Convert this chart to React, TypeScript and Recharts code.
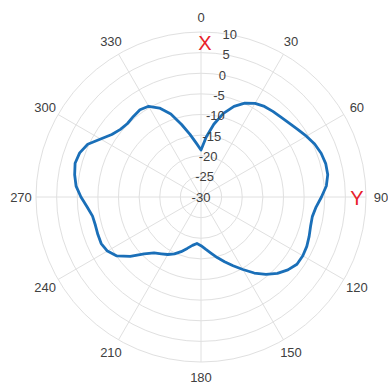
import React from "react";
import {
  RadarChart,
  Radar,
  PolarGrid,
  PolarAngleAxis,
  PolarRadiusAxis,
} from "recharts";

// angle in degrees, clockwise from top
const angles = [
  0, 5, 10, 15, 20, 25, 30, 35, 40, 45, 50, 55, 60, 65, 70, 75, 80, 85, 90, 95,
  100, 105, 110, 115, 120, 125, 130, 135, 140, 145, 150, 155, 160, 165, 170, 175,
  180, 185, 190, 195, 200, 205, 210, 215, 220, 225, 230, 235, 240, 245, 250, 255,
  260, 265, 270, 275, 280, 285, 290, 295, 300, 305, 310, 315, 320, 325, 330, 335,
  340, 345, 350, 355,
];

// gain in dB
const gain = [
  -18.6, -15.4, -12.1, -9.0, -6.6, -4.9, -3.8, -3.2, -2.9, -2.6, -2.1, -1.4,
  -0.5, 0.4, 1.0, 1.3, 1.2, 0.5, -0.8, -2.0, -2.6, -2.5, -2.1, -1.7, -1.5, -1.6,
  -2.5, -3.8, -5.5, -7.5, -9.7, -11.6, -13.3, -14.8, -16.2, -17.3, -18.2, -18.7,
  -18.1, -17.1, -15.9, -14.8, -13.9, -13.2, -12.3, -10.5, -7.6, -5.1, -3.8, -3.3,
  -3.4, -3.5, -3.3, -2.3, -0.9, 0.4, 1.1, 1.6, 1.3, 0.3, -1.9, -3.6, -4.5, -4.8,
  -4.5, -4.2, -4.6, -6.2, -8.6, -11.8, -14.6, -16.9,
];

const angleTicks = [0, 30, 60, 90, 120, 150, 180, 210, 240, 270, 300, 330];
const radiusTicks = [-30, -25, -20, -15, -10, -5, 0, 5, 10];

const data = angles.map((a, i) => ({ angle: a, gain: gain[i] }));

const FONT = "'Liberation Sans', Arial, sans-serif";

const AngleTick = (props: any) => {
  const { x, y, payload } = props;
  if (payload.value % 30 !== 0) return null;
  return (
    <text
      x={x}
      y={y}
      textAnchor="middle"
      dominantBaseline="central"
      fontSize={13}
      fontFamily={FONT}
      fill="#404040"
    >
      {payload.value}
    </text>
  );
};

const RadiusTick = (props: any) => {
  const { x, y, payload } = props;
  return (
    <text
      x={x}
      y={y}
      textAnchor="middle"
      dominantBaseline="central"
      fontSize={13}
      fontFamily={FONT}
      fill="#404040"
    >
      {payload.value}
    </text>
  );
};

export default function App() {
  return (
    <div
      style={{
        position: "absolute",
        left: 0,
        top: 0,
        width: 388,
        height: 387,
        background: "#fff",
      }}
    >
      <RadarChart
        width={388}
        height={387}
        data={data}
        cx={201}
        cy={197}
        outerRadius={165}
        margin={{ top: 0, right: 0, bottom: 0, left: 0 }}
      >
        <PolarGrid
          gridType="circle"
          stroke="#e0e0e0"
          polarAngles={angleTicks.map((a) => 90 - a)}
        />
        <PolarAngleAxis
          dataKey="angle"
          tick={<AngleTick />}
          tickSize={15}
          tickLine={false}
          axisLine={false}
        />
        <PolarRadiusAxis
          type="number"
          angle={80}
          domain={[-30, 10]}
          ticks={radiusTicks}
          tickCount={9}
          axisLine={false}
          tickLine={false}
          tick={<RadiusTick />}
        />
        <Radar
          dataKey="gain"
          stroke="#1a6fb8"
          strokeWidth={2.8}
          strokeLinejoin="round"
          fill="none"
          fillOpacity={0}
          dot={false}
          isAnimationActive={false}
        />
      </RadarChart>
      <span
        style={{
          position: "absolute",
          left: 205,
          top: 43,
          transform: "translate(-50%, -50%)",
          color: "#e8202a",
          fontFamily: FONT,
          fontSize: 20,
          lineHeight: 1,
        }}
      >
        X
      </span>
      <span
        style={{
          position: "absolute",
          left: 357,
          top: 198,
          transform: "translate(-50%, -50%)",
          color: "#e8202a",
          fontFamily: FONT,
          fontSize: 20,
          lineHeight: 1,
        }}
      >
        Y
      </span>
    </div>
  );
}
